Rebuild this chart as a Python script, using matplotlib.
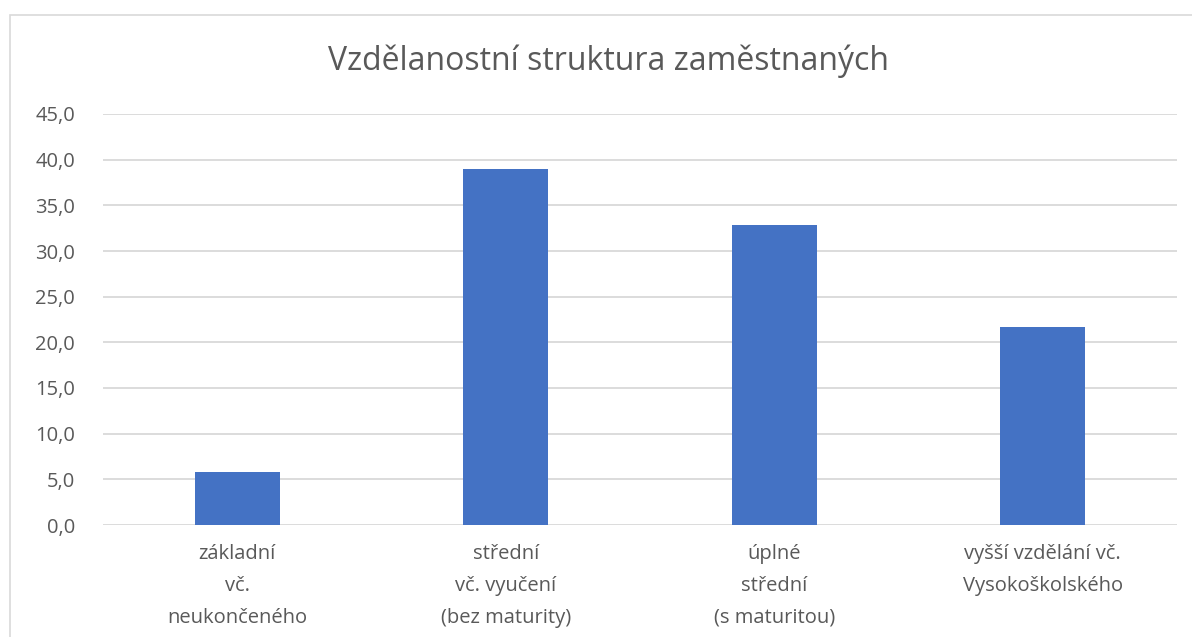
import matplotlib.pyplot as plt
from matplotlib.patches import Rectangle
from matplotlib.ticker import FuncFormatter

# data
categories = [
    "základní\nvč.\nneukončeného",
    "střední\nvč. vyučení\n(bez maturity)",
    "úplné\nstřední\n(s maturitou)",
    "vyšší vzdělání vč.\nVysokoškolského",
]
values = [5.8, 39.0, 32.9, 21.7]
y_ticks = [0, 5, 10, 15, 20, 25, 30, 35, 40, 45]

TEXT = "#595959"
GRID = "#D9D9D9"
BAR = "#4472C4"

plt.rcParams["font.family"] = ["Open Sans", "DejaVu Sans"]

fig = plt.figure(figsize=(11.92, 6.37), dpi=100)
ax = fig.add_axes([103 / 1192, 1 - 525 / 637, (1177 - 103) / 1192, (525 - 114) / 637])

# chart frame like the Excel chart area
fig.patches.append(Rectangle((10 / 1192, -0.1), 1.2, 1 - 15 / 637 + 0.1,
                             transform=fig.transFigure, facecolor="none",
                             edgecolor=GRID, linewidth=1.2))

x = list(range(len(categories)))
ax.bar(x, values, width=0.315, color=BAR, zorder=3)

ax.set_xlim(-0.5, len(categories) - 0.5)
ax.set_ylim(0, 45)
ax.set_yticks(y_ticks)
ax.yaxis.set_major_formatter(FuncFormatter(lambda v, p: f"{v:.1f}".replace(".", ",")))
ax.set_xticks(x)
ax.set_xticklabels(categories, linespacing=1.78)

ax.grid(axis="y", color=GRID, linewidth=1.3, zorder=0)
for side in ["top", "right", "left", "bottom"]:
    ax.spines[side].set_visible(False)
ax.tick_params(axis="both", length=0, colors=TEXT, labelsize=14.5)
ax.tick_params(axis="y", pad=20)
ax.tick_params(axis="x", pad=14)
for lbl in ax.get_xticklabels() + ax.get_yticklabels():
    lbl.set_color(TEXT)

fig.text(608 / 1192, 1 - 61 / 637, "Vzdělanostní struktura zaměstnaných",
         ha="center", va="center", fontsize=23, color=TEXT)

fig.savefig("out.png", dpi=100)
